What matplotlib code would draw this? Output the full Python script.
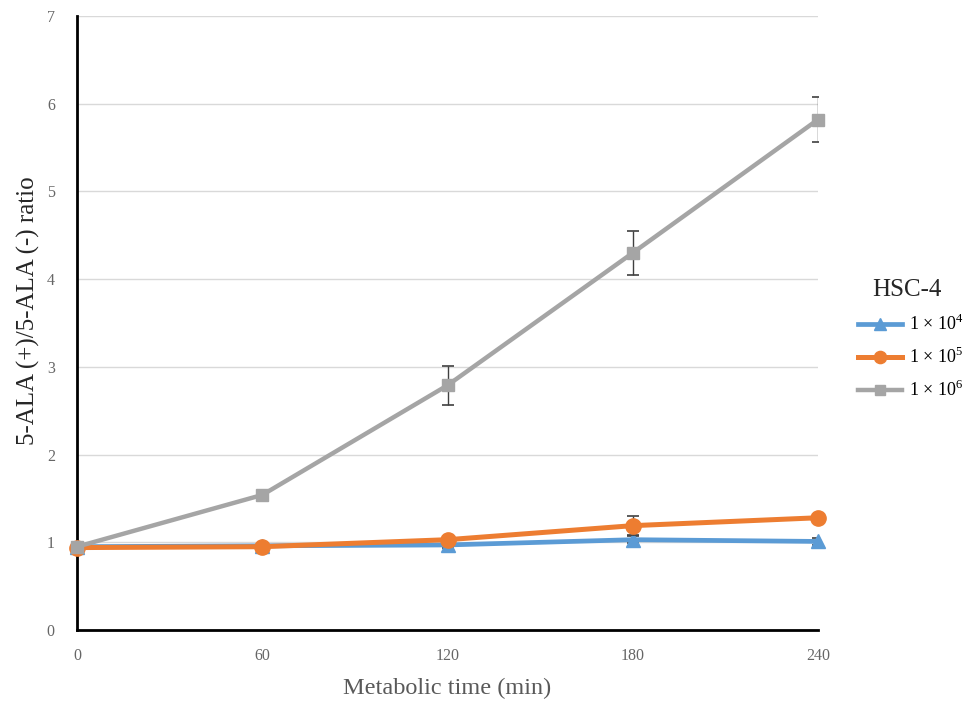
import matplotlib.pyplot as plt

plt.rcParams['font.family'] = ['Liberation Serif', 'DejaVu Serif']
plt.rcParams['mathtext.fontset'] = 'custom'
plt.rcParams['mathtext.rm'] = 'Liberation Serif'

time_min = [0, 60, 120, 180, 240]

ratio_1e4 = [0.95, 0.96, 0.97, 1.03, 1.01]
err_1e4 = [0.02, 0.02, 0.03, 0.04, 0.04]
ratio_1e5 = [0.94, 0.95, 1.03, 1.19, 1.28]
err_1e5 = [0.02, 0.02, 0.03, 0.11, 0.03]
ratio_1e6 = [0.95, 1.54, 2.79, 4.30, 5.82]
err_1e6 = [0.02, 0.03, 0.22, 0.25, 0.26]

labels = [r'1 × 10$^{4}$', r'1 × 10$^{5}$', r'1 × 10$^{6}$']
colors = ['#5B9BD5', '#ED7D31', '#A5A5A5']
markers = ['^', 'o', 's']
msizes = [10, 11, 9]
widths = [3.4, 3.6, 3.2]

fig = plt.figure(figsize=(9.75, 7.06), dpi=100)
ax = fig.add_axes([0.079, 0.1076, 0.76, 0.8697])

series = [(ratio_1e4, err_1e4), (ratio_1e5, err_1e5), (ratio_1e6, err_1e6)]
for i, (vals, errs) in enumerate(series):
    ax.errorbar(time_min, vals, yerr=errs, fmt='none', ecolor='#404040',
                elinewidth=1.0, capsize=4, capthick=1.2, zorder=2 + i)
    ax.plot(time_min, vals, color=colors[i], marker=markers[i], lw=widths[i],
            markersize=msizes[i], label=labels[i], zorder=3 + i, clip_on=False)

ax.set_xlim(0, 240)
ax.set_ylim(0, 7)
ax.set_xticks(time_min)
ax.set_yticks(range(0, 8))
ax.grid(axis='y', color='#D9D9D9', lw=1.0)
ax.set_axisbelow(True)
for s in ['top', 'right']:
    ax.spines[s].set_visible(False)
ax.spines['left'].set_linewidth(2.0)
ax.spines['bottom'].set_linewidth(2.0)
ax.tick_params(length=0, labelsize=11.5, labelcolor='#666666', pad=13)
ax.tick_params(axis='y', pad=16)

ax.set_xlabel('Metabolic time (min)', fontsize=17.5, color='#595959', labelpad=10)
ax.set_ylabel('5-ALA (+)/5-ALA (-) ratio', fontsize=18, color='#262626')
ax.yaxis.set_label_coords(-0.05, 0.52)

# legend title placed on its own, entries below it
fig.text(872 / 975, 1 - 290 / 706, 'HSC-4', va='center', ha='left',
         fontsize=18, color='#262626')
ax.legend(loc='upper left', bbox_to_anchor=(858 / 975, 1 - 314 / 706),
          bbox_transform=fig.transFigure, frameon=False, fontsize=13,
          handlelength=2.45, handletextpad=0.4, labelspacing=0.72,
          borderpad=0, borderaxespad=0, markerscale=0.8)

fig.savefig('out.png', dpi=100)
